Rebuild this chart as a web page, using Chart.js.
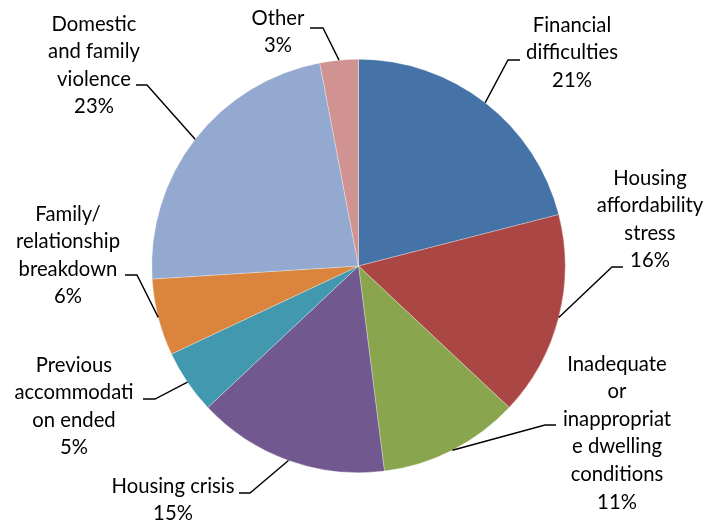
<!DOCTYPE html>
<html><head><meta charset="utf-8">
<script src="https://cdn.jsdelivr.net/npm/chart.js@4"></script>
<style>html,body{margin:0;padding:0;background:#fff}#wrap{width:712px;height:522px;position:relative}</style>
</head><body><div id="wrap"><canvas id="c" width="712" height="522"></canvas></div>
<script>
const categories = ["Financial difficulties","Housing affordability stress","Inadequate or inappropriate dwelling conditions","Housing crisis","Previous accommodation ended","Family/ relationship breakdown","Domestic and family violence","Other"];
const values = [21,16,11,15,5,6,23,3];
const labelLines = [
  ["Financial","difficulties"],
  ["Housing","affordability","stress"],
  ["Inadequate","or","inappropriat","e dwelling","conditions"],
  ["Housing crisis"],
  ["Previous","accommodati","on ended"],
  ["Family/","relationship","breakdown"],
  ["Domestic","and family","violence"],
  ["Other"]
];
const colors = ["#4572A7","#AA4643","#89A54E","#71588F","#4198AF","#DB843D","#93A9CF","#D19392"];

// label layout: text centre x, first line centre y, elbow (start of diagonal) x,y, horizontal segment end x
const labelLayout = [
  {x:572,y:25, ex:508,ey:60, hx:520},
  {x:650,y:178,ex:612,ey:267,hx:623},
  {x:617,y:364,ex:545,ey:425,hx:556},
  {x:173,y:486,ex:250,ey:493,hx:239},
  {x:74, y:365,ex:155,ey:399,hx:143},
  {x:68, y:214,ex:137,ey:275,hx:125},
  {x:94, y:24, ex:147,ey:85, hx:136},
  {x:278,y:18, ex:323,ey:28, hx:310}
];
const LINE_H = 27.6;

const fontFam = "Lato, 'Open Sans', sans-serif";
function fitFont(ctx){
  ctx.font = "100px " + fontFam;
  const w = ctx.measureText("Housing crisis").width;
  return 100 * 123 / w;
}

const labelPlugin = {
  id:'pieLabels',
  afterDatasetsDraw(chart){
    const ctx = chart.ctx;
    const meta = chart.getDatasetMeta(0);
    const fs = fitFont(ctx);
    ctx.save();
    ctx.font = fs.toFixed(2) + "px " + fontFam;
    ctx.fillStyle = "#000";
    ctx.textAlign = "center";
    ctx.textBaseline = "middle";
    meta.data.forEach((arc, i) => {
      const L = labelLayout[i];
      const mid = (arc.startAngle + arc.endAngle)/2;
      const px = arc.x + Math.cos(mid)*arc.outerRadius;
      const py = arc.y + Math.sin(mid)*arc.outerRadius;
      ctx.strokeStyle = "#000";
      ctx.lineWidth = 1.4;
      ctx.beginPath();
      ctx.moveTo(L.hx, L.ey);
      ctx.lineTo(L.ex, L.ey);
      ctx.lineTo(px, py);
      ctx.stroke();
      const lines = labelLines[i].concat([values[i] + "%"]);
      lines.forEach((t, k) => ctx.fillText(t, L.x, L.y + k*LINE_H));
    });
    ctx.restore();
  }
};

new Chart(document.getElementById('c'), {
  type:'pie',
  data:{labels:categories, datasets:[{data:values, backgroundColor:colors, borderWidth:0.5, borderColor:"rgba(255,255,255,0.6)"}]},
  options:{
    responsive:false, animation:false,
    layout:{padding:{left:151,right:146,top:59,bottom:49}},
    plugins:{legend:{display:false}, tooltip:{enabled:false}}
  },
  plugins:[labelPlugin]
});
</script>
</body></html>
